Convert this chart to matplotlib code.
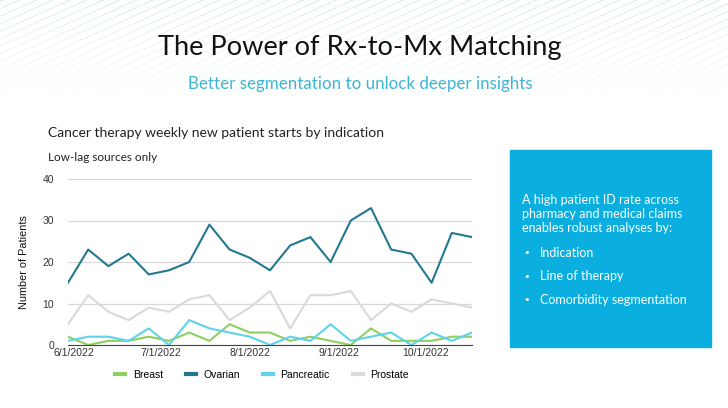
import numpy as np
import pandas as pd
import matplotlib.pyplot as plt
import matplotlib.dates as mdates

# weekly data, starting Monday 5/30/2022
weeks = pd.date_range('2022-05-30', periods=21, freq='7D')
breast = [2, 0, 1, 1, 2, 1, 3, 1, 5, 3, 3, 1, 2, 1, 0, 4, 1, 1, 1, 2, 2]
ovarian = [15, 23, 19, 22, 17, 18, 20, 29, 23, 21, 18, 24, 26, 20, 30, 33, 23, 22, 15, 27, 26]
pancreatic = [1, 2, 2, 1, 4, 0, 6, 4, 3, 2, 0, 2, 1, 5, 1, 2, 3, 0, 3, 1, 3]
prostate = [5, 12, 8, 6, 9, 8, 11, 12, 6, 9, 13, 4, 12, 12, 13, 6, 10, 8, 11, 10, 9]

series_names = ['Breast', 'Ovarian', 'Pancreatic', 'Prostate']
series_colors = ['#8fcf5f', '#23788f', '#5fd3ea', '#d9d9d9']
bullets = ['Indication', 'Line of therapy', 'Comorbidity segmentation']

fig = plt.figure(figsize=(7.28, 4.08), dpi=100)
W, H = 728, 408

# faint diagonal stripes in the header
bg = fig.add_axes([0, 0, 1, 1])
bg.set_axis_off()
yy, xx = np.mgrid[0:H, 0:W]
stripe = ((xx * 0.45 + yy) % 7.5) < 1.4
fade = np.clip(1 - yy / 115.0, 0, 1) ** 1.3
img = np.ones((H, W, 4))
img[..., 0] = 0.78
img[..., 1] = 0.90
img[..., 2] = 0.93
img[..., 3] = stripe * fade * 0.55
bg.imshow(img, extent=[0, W, H, 0], aspect='auto', interpolation='bilinear')
bg.set_xlim(0, W)
bg.set_ylim(H, 0)

# headings
fig.text(360 / W, 1 - 48 / H, 'The Power of Rx-to-Mx Matching', ha='center', va='center',
         fontsize=19.6, family='Lato', color='#111111')
fig.text(360 / W, 1 - 84 / H, 'Better segmentation to unlock deeper insights', ha='center', va='center',
         fontsize=12.2, family='Lato', color='#3db5d6')
fig.text(48 / W, 1 - 133 / H, 'Cancer therapy weekly new patient starts by indication', ha='left', va='center',
         fontsize=10, family='Lato', color='#222222')
fig.text(48 / W, 1 - 158 / H, 'Low-lag sources only', ha='left', va='center',
         fontsize=8.5, family='Lato', color='#222222')

# chart
ax = fig.add_axes([68 / W, 1 - 345 / H, (472 - 68) / W, (345 - 179) / H])
for vals, name, col in zip([breast, ovarian, pancreatic, prostate], series_names, series_colors):
    ax.plot(weeks, vals, color=col, lw=1.5, label=name)

ax.set_ylim(0, 40)
ax.set_yticks([0, 10, 20, 30, 40])
ax.set_xlim(weeks[0], weeks[-1])
ax.xaxis.set_major_locator(mdates.MonthLocator())
ax.xaxis.set_major_formatter(mdates.DateFormatter('%-m/%-d/%Y'))
ax.grid(axis='y', color='#d9d9d9', lw=0.9)
ax.set_axisbelow(True)
for s in ['top', 'right', 'left']:
    ax.spines[s].set_visible(False)
ax.spines['bottom'].set_color('#444444')
ax.tick_params(length=0, labelsize=7.5, colors='#333333', labelfontfamily='Liberation Sans')
ax.tick_params(axis='y', pad=10)
ax.tick_params(axis='x', pad=2)
ax.set_ylabel('Number of Patients', fontsize=7.8, family='Liberation Sans', color='#111111', labelpad=10)

fig.legend(loc='center', bbox_to_anchor=(262 / W, 1 - 375 / H), ncol=4, frameon=False,
           prop={'family': 'Liberation Sans', 'size': 7.5}, handlelength=1.0, handletextpad=0.7,
           columnspacing=2.2)
for line in fig.legends[0].get_lines():
    line.set_linewidth(3)

# info box
box = plt.Rectangle((510 / W, 1 - 347 / H), (711 - 510) / W, (347 - 150) / H,
                    transform=fig.transFigure, color='#0aafe0', zorder=1)
fig.add_artist(box)
fig.text(522 / W, 1 - 214 / H, 'A high patient ID rate across\npharmacy and medical claims\nenables robust analyses by:',
         ha='left', va='center', fontsize=9, family='Lato', color='white', linespacing=1.25)
for i, b in enumerate(bullets):
    y = 1 - (253 + i * 23.5) / H
    fig.text(527 / W, y, '\u2022', ha='center', va='center', fontsize=8, color='white')
    fig.text(540 / W, y, b, ha='left', va='center', fontsize=9, family='Lato', color='white')

fig.savefig('out.png', dpi=100)
